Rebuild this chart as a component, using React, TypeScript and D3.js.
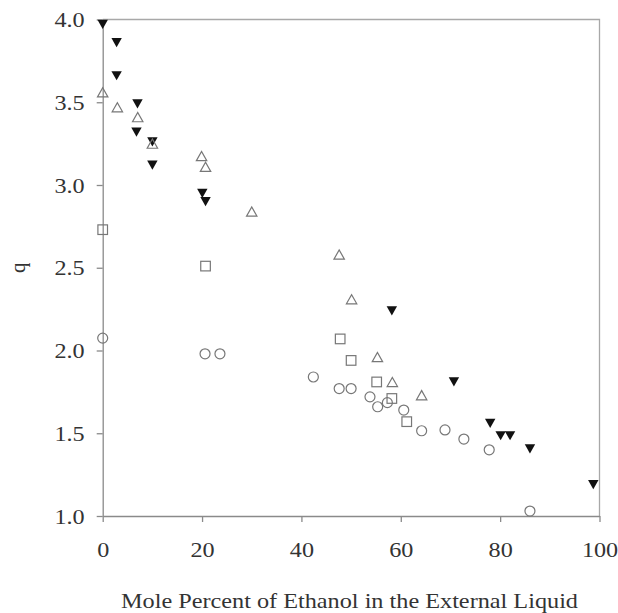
import React, { useEffect, useRef } from "react";
import * as d3 from "d3";

// filled down-triangles
const filledX = [0, 2.8, 2.8, 7.0, 6.8, 10.0, 10.0, 20.05, 20.7, 58.2, 70.7, 78.0, 80.1, 82.0, 86.0, 98.75];
const filledY = [3.97, 3.86, 3.66, 3.49, 3.32, 3.26, 3.12, 2.95, 2.9, 2.24, 1.81, 1.56, 1.485, 1.485, 1.405, 1.19];

// open up-triangles
const triX = [0, 2.95, 7.05, 10.0, 19.9, 20.7, 30.0, 47.6, 50.1, 55.3, 58.3, 64.2];
const triY = [3.56, 3.47, 3.41, 3.25, 3.175, 3.11, 2.84, 2.58, 2.31, 1.96, 1.81, 1.73];

// open squares
const sqX = [0, 20.7, 47.8, 50.0, 55.15, 58.2, 61.2];
const sqY = [2.73, 2.51, 2.07, 1.94, 1.81, 1.71, 1.57];

// open circles
const circX = [0, 20.6, 23.6, 42.4, 47.6, 50.0, 53.8, 55.35, 57.3, 60.6, 64.2, 68.9, 72.7, 77.8, 86.0];
const circY = [2.075, 1.98, 1.98, 1.84, 1.77, 1.77, 1.72, 1.66, 1.685, 1.64, 1.515, 1.52, 1.465, 1.4, 1.03];

const xTicks = [0, 20, 40, 60, 80, 100];
const yTicks = [1.0, 1.5, 2.0, 2.5, 3.0, 3.5, 4.0];

const W = 618;
const H = 613;
const M = { top: 19.5, right: 18.5, bottom: 97, left: 102.7 };
const FONT = "Liberation Serif, Times New Roman, serif";

const zip = (xs: number[], ys: number[]) => xs.map((x, i) => [x, ys[i]] as [number, number]);

// the source image is a bit wider than tall, so text is stretched
const stretch = (sel: d3.Selection<any, any, any, any>, k = 1.15) =>
  sel.each(function () {
    const node = this as SVGTextElement;
    const len = node.getComputedTextLength();
    d3.select(node).attr("textLength", len * k).attr("lengthAdjust", "spacingAndGlyphs");
  });

export default function App() {
  const svgRef = useRef<SVGSVGElement | null>(null);

  useEffect(() => {
    if (!svgRef.current) return;
    const svg = d3.select(svgRef.current);
    svg.selectAll("*").remove();

    const x = d3.scaleLinear().domain([0, 100]).range([M.left, W - M.right]);
    const y = d3.scaleLinear().domain([1, 4]).range([H - M.bottom, M.top]);

    // frame (top & right)
    svg.append("path")
      .attr("d", `M${x(0)},${y(4)}H${x(100)}V${y(1)}`)
      .attr("fill", "none")
      .attr("stroke", "#a8a8a8")
      .attr("stroke-width", 1.3);

    const xAxis = svg.append("g")
      .attr("transform", `translate(0,${y(1)})`)
      .call(d3.axisBottom(x).tickValues(xTicks).tickSize(6).tickSizeOuter(0).tickFormat(d3.format("d")));
    const yAxis = svg.append("g")
      .attr("transform", `translate(${x(0)},0)`)
      .call(d3.axisLeft(y).tickValues(yTicks).tickSize(6).tickSizeOuter(0).tickFormat(d3.format(".1f")));

    [xAxis, yAxis].forEach((g) => {
      g.select(".domain").attr("stroke", "#8a8a8a").attr("stroke-width", 1.3);
      g.selectAll("line").attr("stroke", "#8a8a8a").attr("stroke-width", 1.3);
      g.selectAll("text")
        .attr("font-family", FONT)
        .attr("font-size", 21)
        .attr("fill", "#333");
    });
    xAxis.selectAll("text").attr("y", 26).attr("dy", "0.71em");
    yAxis.selectAll("text").attr("x", -18).attr("dy", "0.34em");
    stretch(xAxis.selectAll("text"));
    stretch(yAxis.selectAll("text"));

    // axis titles
    const xt = svg.append("text")
      .attr("x", (121 + 578) / 2)
      .attr("y", 608)
      .attr("text-anchor", "middle")
      .attr("font-family", FONT)
      .attr("font-size", 21)
      .attr("fill", "#333")
      .text("Mole Percent of Ethanol in the External Liquid");
    xt.attr("textLength", 457).attr("lengthAdjust", "spacingAndGlyphs");

    svg.append("text")
      .attr("transform", `translate(25,${(y(1) + y(4)) / 2}) rotate(-90)`)
      .attr("text-anchor", "middle")
      .attr("font-family", FONT)
      .attr("font-size", 21)
      .attr("fill", "#333")
      .text("q");

    const stroke = "#777";

    // open circles
    svg.append("g")
      .selectAll("circle")
      .data(zip(circX, circY))
      .join("circle")
      .attr("cx", (d) => x(d[0]))
      .attr("cy", (d) => y(d[1]))
      .attr("r", 5)
      .attr("fill", "none")
      .attr("stroke", stroke)
      .attr("stroke-width", 1.2);

    // open squares
    svg.append("g")
      .selectAll("rect")
      .data(zip(sqX, sqY))
      .join("rect")
      .attr("x", (d) => x(d[0]) - 4.8)
      .attr("y", (d) => y(d[1]) - 4.8)
      .attr("width", 9.6)
      .attr("height", 9.6)
      .attr("fill", "none")
      .attr("stroke", stroke)
      .attr("stroke-width", 1.2);

    // filled down-triangles
    const hw = 5.2;
    const hh = 4.6;
    svg.append("g")
      .selectAll("path")
      .data(zip(filledX, filledY))
      .join("path")
      .attr("d", (d) => {
        const cx = x(d[0]);
        const cy = y(d[1]);
        return `M${cx - hw},${cy - hh}L${cx + hw},${cy - hh}L${cx},${cy + hh}Z`;
      })
      .attr("fill", "#111");

    // open up-triangles
    svg.append("g")
      .selectAll("path")
      .data(zip(triX, triY))
      .join("path")
      .attr("d", (d) => {
        const cx = x(d[0]);
        const cy = y(d[1]);
        return `M${cx - hw},${cy + hh}L${cx + hw},${cy + hh}L${cx},${cy - hh}Z`;
      })
      .attr("fill", "none")
      .attr("stroke", stroke)
      .attr("stroke-width", 1.2);
  }, []);

  return (
    <div style={{ position: "fixed", left: 0, top: 0, background: "#fff" }}>
      <svg ref={svgRef} width={W} height={H} style={{ display: "block" }} />
    </div>
  );
}
